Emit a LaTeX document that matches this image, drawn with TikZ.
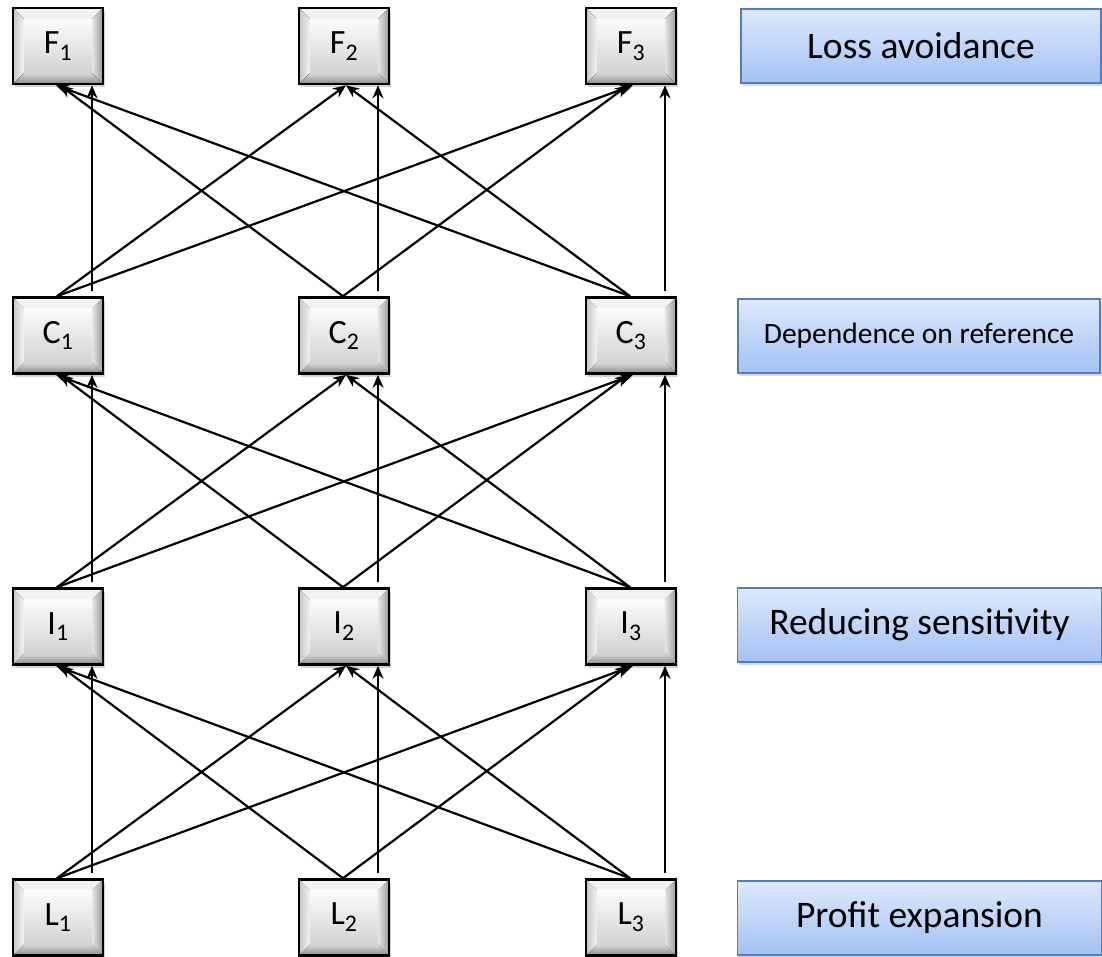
\documentclass[tikz,border=0pt]{standalone}
\usepackage{fontspec}
\setmainfont{Carlito}
\usetikzlibrary{arrows.meta,calc,shadows}
\definecolor{bevTop}{HTML}{F2F2F2}
\definecolor{bevLeft}{HTML}{E2E2E2}
\definecolor{bevRight}{HTML}{9A9A9A}
\definecolor{bevBot}{HTML}{8A8A8A}
\definecolor{lblTop}{HTML}{DDE8FC}
\definecolor{lblBot}{HTML}{A3C2F4}
\definecolor{lblBorder}{HTML}{4F7FBF}
\tikzset{
  gbox/.style={draw=black, line width=2.6pt, minimum width=90pt, minimum height=76pt,
    inner sep=0pt, font=\fontsize{34}{34}\selectfont,
    drop shadow={opacity=0.35, shadow xshift=2pt, shadow yshift=-3pt},
    path picture={
      \coordinate (pa) at (path picture bounding box.north west);
      \coordinate (pb) at (path picture bounding box.north east);
      \coordinate (pc) at (path picture bounding box.south east);
      \coordinate (pd) at (path picture bounding box.south west);
      \coordinate (qa) at ($(pa)+(11pt,-11pt)$);
      \coordinate (qb) at ($(pb)+(-11pt,-11pt)$);
      \coordinate (qc) at ($(pc)+(-11pt,11pt)$);
      \coordinate (qd) at ($(pd)+(11pt,11pt)$);
      \fill[bevTop] (pa)--(pb)--(qb)--(qa)--cycle;
      \fill[left color=gray!45, right color=bevTop] (pa)--(qa)--(qd)--(pd)--cycle;
      \fill[left color=gray!20, right color=bevRight] (pb)--(pc)--(qc)--(qb)--cycle;
      \fill[top color=gray!30, bottom color=bevBot] (pd)--(qd)--(qc)--(pc)--cycle;
      \fill[top color=white!97!gray, bottom color=gray!35] (qa) rectangle (qc);
    }},
  lbox/.style={draw=lblBorder, line width=1.2pt, top color=lblTop, bottom color=lblBot,
    minimum height=74pt, inner sep=0pt,
    drop shadow={opacity=0.3, shadow xshift=1.5pt, shadow yshift=-3pt}},
  arr/.style={-{Stealth[length=13pt,width=11pt]}, line width=2.2pt, black},
}
\begin{document}
\begin{tikzpicture}[x=1pt,y=-1pt]
\useasboundingbox (0,0) rectangle (1102,956);
% nodes
\foreach \n/\t/\y in {F/F/46,C/C/335.5,I/I/626.5,L/L/917.5}{
  \node[gbox] (\n1) at (58,\y) {\t\textsubscript{1}};
  \node[gbox] (\n2) at (344,\y) {\t\textsubscript{2}};
  \node[gbox] (\n3) at (631,\y) {\t\textsubscript{3}};
}
% label boxes
\node[lbox, minimum width=360pt, font=\fontsize{37.5}{37.5}\selectfont] (loss) at (921,46) {Loss avoidance};
\node[lbox, minimum width=362pt, font=\fontsize{29.5}{29.5}\selectfont] (dep) at (919,336) {Dependence on reference};
\node[lbox, minimum width=364pt, font=\fontsize{37.5}{37.5}\selectfont] (red) at (919.5,625) {Reducing sensitivity};
\node[lbox, minimum width=364pt, font=\fontsize{37.5}{37.5}\selectfont] (prof) at (919.5,918) {Profit expansion};
% connectors
\foreach \lo/\up in {C/F,I/C,L/I}{
  \draw[arr] ([xshift=-1pt]\lo1.north) -- ([xshift=2pt]\up2.south);
  \draw[arr] ([xshift=-1pt]\lo1.north) -- ([xshift=2pt]\up3.south);
  \draw[arr] ([xshift=34pt,yshift=5pt]\lo1.north) -- ([xshift=34pt]\up1.south);
  \draw[arr] ([xshift=-1pt]\lo2.north) -- ([xshift=2pt]\up1.south);
  \draw[arr] ([xshift=-1pt]\lo2.north) -- ([xshift=-3pt]\up3.south);
  \draw[arr] ([xshift=34pt,yshift=5pt]\lo2.north) -- ([xshift=34pt]\up2.south);
  \draw[arr] ([xshift=-1pt]\lo3.north) -- ([xshift=-2pt]\up1.south);
  \draw[arr] ([xshift=-1pt]\lo3.north) -- ([xshift=2pt]\up2.south);
  \draw[arr] ([xshift=34pt,yshift=5pt]\lo3.north) -- ([xshift=34pt]\up3.south);
}
\end{tikzpicture}
\end{document}
